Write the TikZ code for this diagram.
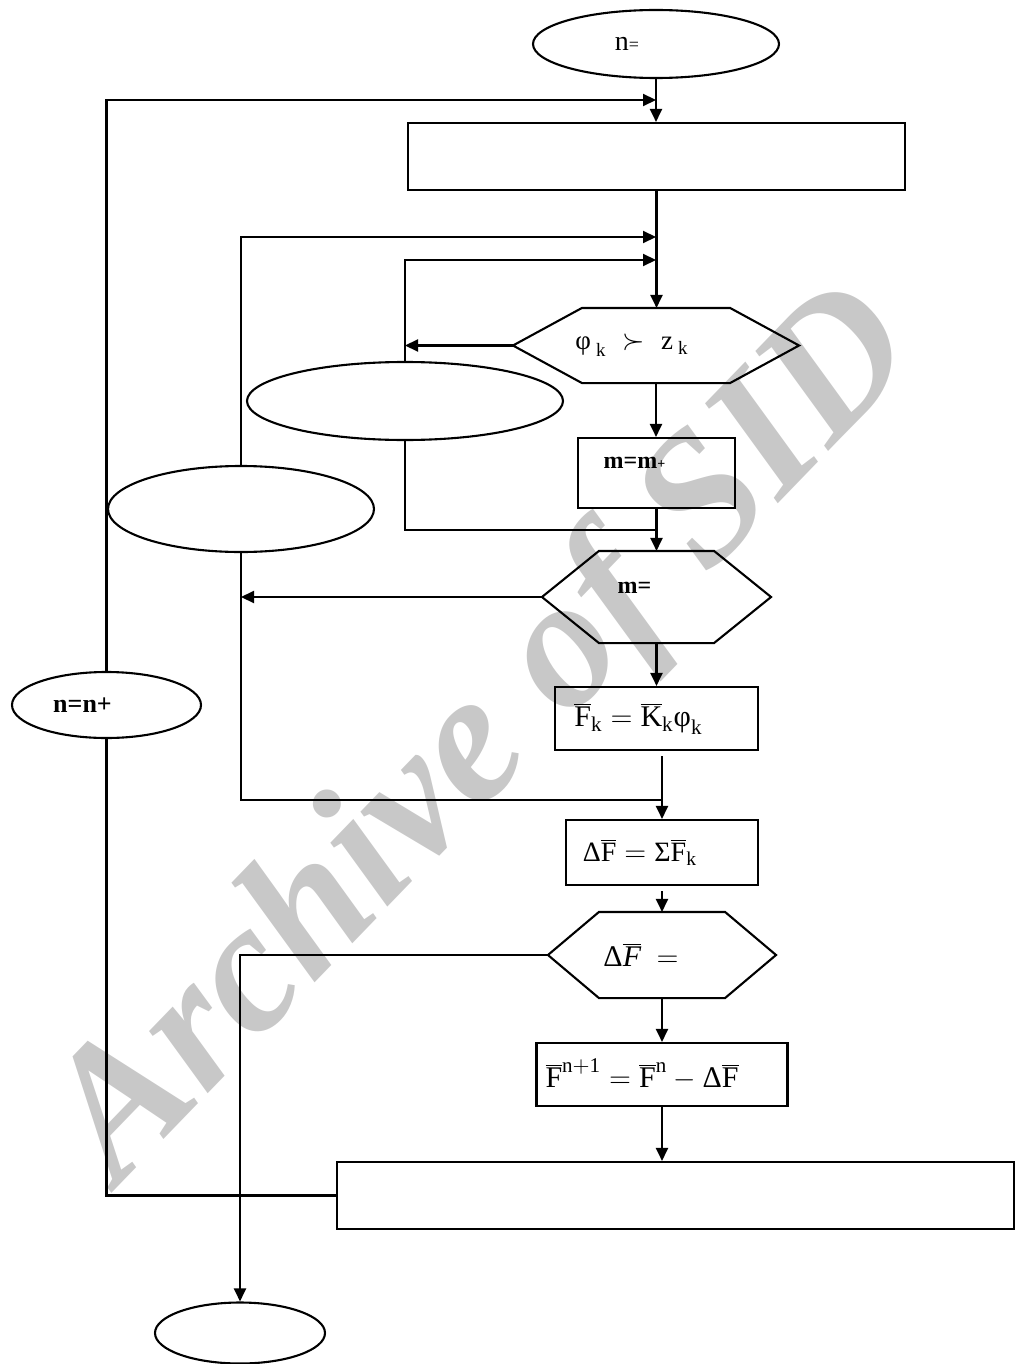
\documentclass[tikz,border=0pt]{standalone}
\usepackage{fontspec}
\setmainfont{Liberation Serif}
\usetikzlibrary{arrows.meta,positioning,calc,shapes.geometric}
\definecolor{MarkGray}{HTML}{C8C8C8}
\newcommand{\offtext}[2]{\makebox[0pt]{#2\hspace*{#1}}}
\newcommand{\hexoutline}[2]{\draw (#1.west) -- ($(#1.north west)+(#2,0)$) -- ($(#1.north east)+(-#2,0)$)
  -- (#1.east) -- ($(#1.south east)+(-#2,0)$) -- ($(#1.south west)+(#2,0)$) -- cycle;}
\begin{document}
\begin{tikzpicture}[x=0.5pt,y=-0.5pt,>={Triangle[length=6.5pt,width=6pt]},line width=1.05pt]
\tikzstyle{oval}=[ellipse,draw,inner sep=0pt]
\tikzstyle{box}=[rectangle,draw,inner sep=0pt]
\tikzstyle{hexa}=[rectangle,inner sep=0pt]
\useasboundingbox (0,0) rectangle (1016,1364);
\node[rotate=46,text=MarkGray,font=\fontsize{93}{93}\selectfont\bfseries\itshape] (mark) at (488,738) {Archive of SID};
\node[oval,minimum width=123pt,minimum height=34pt] (start) at (656,44) {\fontsize{14}{16}\selectfont\offtext{29pt}{n{\small=}}};
\node[box,minimum width=248.5pt,minimum height=33.5pt] (init) at (656.5,156.5) {};
\node[hexa,minimum width=142pt,minimum height=36.5pt] (cmp) at (656,345.5) {\fontsize{13.5}{15}\selectfont\offtext{24pt}{$\mbox{φ}_{\;\mathrm{k}}\;\succ\;\mathrm{z}_{\;\mathrm{k}}$}};
\node[oval,minimum width=158pt,minimum height=39pt] (skip) at (405,401) {};
\node[box,minimum width=78.5pt,minimum height=35pt] (incm) at (656.5,473) {\raisebox{10pt}{\fontsize{12}{14}\selectfont\bfseries\offtext{22pt}{m=m{\scriptsize+}}}};
\node[oval,minimum width=133pt,minimum height=43pt] (back) at (241,509) {};
\node[hexa,minimum width=113.5pt,minimum height=45pt] (chkm) at (656.5,597) {\raisebox{9pt}{\fontsize{12}{14}\selectfont\bfseries\offtext{22pt}{m=}}};
\node[box,minimum width=101.5pt,minimum height=31.5pt] (force) at (656.5,718.5) {\fontsize{15}{17}\selectfont\offtext{18pt}{$\overline{\mathrm{F}}_{\mathrm{k}}=\overline{\mathrm{K}}_{\mathrm{k}}\mbox{φ}_{\mathrm{k}}$}};
\node[box,minimum width=96pt,minimum height=32.5pt] (dsum) at (662,852.5) {\fontsize{14}{16}\selectfont\offtext{22pt}{$\mbox{Δ}\overline{\mathrm{F}}=\mbox{Σ}\overline{\mathrm{F}}_{\mathrm{k}}$}};
\node[hexa,minimum width=113pt,minimum height=42pt] (chkf) at (662,955) {\raisebox{-10pt}{\fontsize{15}{17}\selectfont\offtext{21pt}{$\mbox{Δ}\overline{\mbox{\itshape F}}\ =$}}};
\node[box,minimum width=125.5pt,minimum height=31.5pt] (upd) at (662,1074.5) {\fontsize{15}{17}\selectfont\offtext{20pt}{$\overline{\mathrm{F}}^{\mathrm{n+1}}=\overline{\mathrm{F}}^{\mathrm{n}}-\mbox{Δ}\overline{\mathrm{F}}$}};
\node[box,minimum width=338.5pt,minimum height=33.5pt] (store) at (675.5,1195.5) {};
\node[oval,minimum width=94.5pt,minimum height=33pt] (incn) at (106.5,705) {\fontsize{13}{15}\selectfont\bfseries\offtext{24pt}{n=n+}};
\node[oval,minimum width=85pt,minimum height=30.5pt] (stop) at (240,1333) {};
\hexoutline{cmp}{69}
\hexoutline{chkm}{57}
\hexoutline{chkf}{51}
\coordinate (j0) at (656,100);
\coordinate (j1) at (656,237);
\coordinate (j2) at (656,260);
\coordinate (j3) at (656,530);
\coordinate (j4) at (662,800);
\draw[->] (start.south) -- (start.south |- init.north);
\draw[->] (incn.north) |- (j0);
\draw[->] (init.south) -- (init.south |- cmp.north);
\draw[->] (back.north) |- (j1);
\draw[->] (skip.north) |- (j2);
\draw[->] (cmp.west) -- (cmp.west -| skip.north);
\draw[->] (cmp.south) -- (cmp.south |- incm.north);
\draw (skip.south) |- (j3);
\draw[->] (incm.south) -- (chkm.north);
\draw[->] (chkm.west) -- (chkm.west -| back.south);
\draw (back.south) |- (j4);
\draw[->] (chkm.south) -- (chkm.south |- force.north);
\draw[->] ([yshift=-2.5pt]dsum.north |- force.south) -- (dsum.north);
\draw[->] ([yshift=-2.5pt]dsum.south) -- (dsum.south |- chkf.north);
\draw[->] (chkf.west) -| (stop.north);
\draw[->] (chkf.south) -- (upd.north);
\draw[->] (upd.south) -- (upd.south |- store.north);
\draw (store.west) -| (incn.south);
\end{tikzpicture}
\end{document}
